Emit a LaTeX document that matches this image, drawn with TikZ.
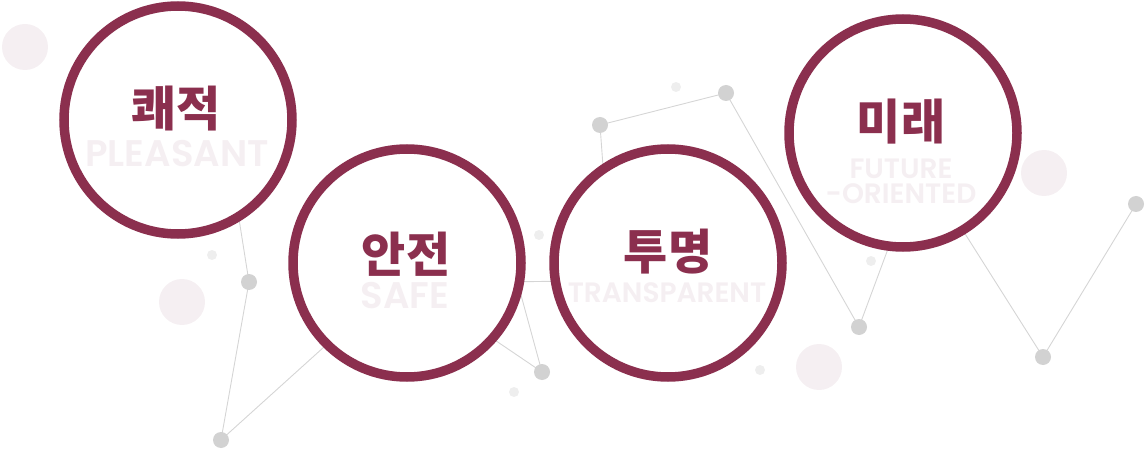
\documentclass[tikz,border=0pt]{standalone}
\usepackage{fontspec}
\newfontfamily\kfont{Noto Sans CJK KR Black}
\newfontfamily\efont{Poppins}[UprightFont=* SemiBold]
\definecolor{maroon}{HTML}{8B2F4E}
\definecolor{pinkbg}{HTML}{F5EFF2}
\definecolor{dotgray}{HTML}{D2D2D2}
\definecolor{linegray}{HTML}{D5D5D5}
\definecolor{smallgray}{HTML}{EEEEEE}
\tikzset{
  bigc/.style={circle, draw=maroon, line width=9.5pt, fill=white, minimum size=228pt, inner sep=0pt},
  gdot/.style={circle, fill=dotgray, minimum size=16pt, inner sep=0pt},
  sdot/.style={circle, fill=smallgray, minimum size=10pt, inner sep=0pt},
  pdot/.style={circle, fill=pinkbg, minimum size=46pt, inner sep=0pt},
  conn/.style={draw=linegray, line width=0.9pt},
  ktxt/.style={text=maroon, font=\kfont\fontsize{48}{48}\selectfont, inner sep=0pt},
  etxt/.style={text=pinkbg, font=\efont\fontsize{#1}{#1}\selectfont, inner sep=0pt},
  ftxt/.style={etxt=28, text height=20pt, text depth=0pt},
}
\begin{document}
\begin{tikzpicture}[x=1pt,y=-1pt]
\useasboundingbox (0,0) rectangle (1146,449);
% light decorative circles
\node[pdot] (p1) at (25,47) {};
\node[pdot] (p2) at (182,302) {};
\node[pdot] (p3) at (819,367) {};
\node[pdot] (p4) at (1044,173) {};
\node[sdot] (s1) at (212,255) {};
\node[sdot] (s2) at (539,235) {};
\node[sdot] (s3) at (514,392) {};
\node[sdot] (s4) at (676,87) {};
\node[sdot] (s5) at (760,370) {};
\node[sdot] (s6) at (871,261) {};
% hidden connector ends (under circles)
\coordinate (h1) at (236,200);
\coordinate (h2) at (345,328);
\coordinate (h3) at (500,282);
\coordinate (h4) at (575,281);
\coordinate (h5) at (512,262);
\coordinate (h6) at (480,330);
\coordinate (h7) at (604,180);
\coordinate (h8) at (895,230);
\coordinate (h9) at (950,210);
% dot positions
\coordinate (q1) at (249,282);
\coordinate (q2) at (221,440);
\coordinate (q3) at (542,372);
\coordinate (q4) at (600,125);
\coordinate (q5) at (726,93);
\coordinate (q6) at (859,327);
\coordinate (q7) at (1043,357);
\coordinate (q8) at (1136,204);
% connectors
\draw[conn] (h1) -- (q1);
\draw[conn] (q1) -- (q2);
\draw[conn] (q2) -- (h2);
\draw[conn] (h3) -- (h4);
\draw[conn] (h5) -- (q3);
\draw[conn] (h6) -- (q3);
\draw[conn] (h7) -- (q4);
\draw[conn] (q4) -- (q5);
\draw[conn] (q5) -- (q6);
\draw[conn] (q6) -- (h8);
\draw[conn] (h9) -- (q7);
\draw[conn] (q7) -- (q8);
% gray dots
\foreach \i in {1,...,8}
  \node[gdot] (d\i) at (q\i) {};
% main circles
\node[bigc] (c1) at (178,120) {};
\node[bigc] (c2) at (407,263) {};
\node[bigc] (c3) at (668,263) {};
\node[bigc] (c4) at (903,133) {};
% texts
\node[etxt=37] (e1) at (177,154) {PLEASANT};
\node[ktxt] (k1) at (176,109) {쾌적};
\node[etxt=37] (e2) at (405,296) {SAFE};
\node[ktxt] (k2) at (406,254) {안전};
\node[etxt=28] (e3) at (667,293) {TRANSPARENT};
\node[ktxt] (k3) at (668,252) {투명};
\node[ftxt] (e4a) at (901,169) {FUTURE};
\node[ftxt] (e4b) at (901,194) {-ORIENTED};
\node[ktxt] (k4) at (901,122) {미래};
\end{tikzpicture}
\end{document}
